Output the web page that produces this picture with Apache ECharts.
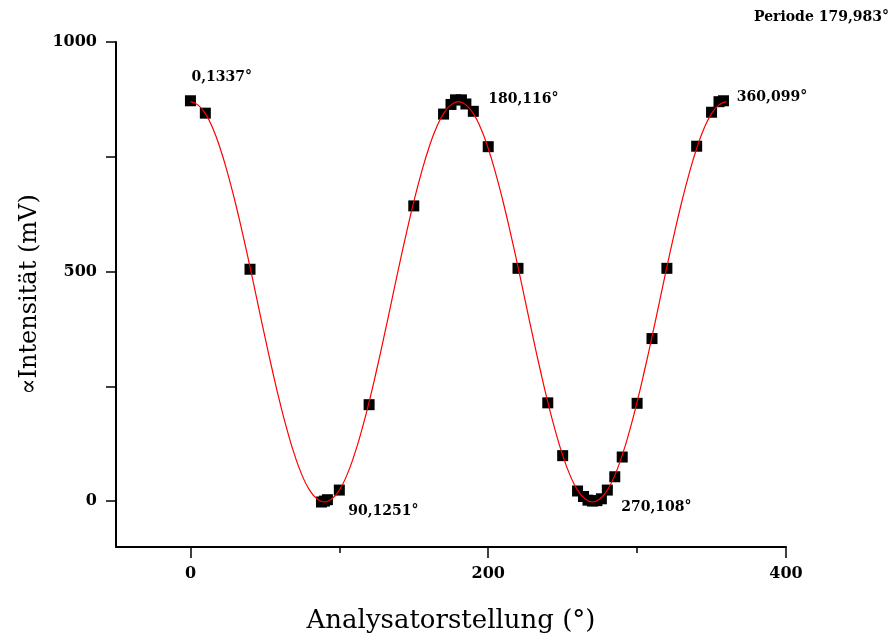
<!DOCTYPE html>
<html>
<head>
<meta charset="utf-8">
<script src="https://cdn.jsdelivr.net/npm/echarts@6/dist/echarts.min.js"></script>
<style>html,body{margin:0;padding:0;background:#fff}#c{width:895px;height:639px}</style>
</head>
<body>
<div id="c"></div>
<script>
// Measured data points (Analysatorstellung in °, Intensität in mV)
const angles = [0, 10, 40, 88, 90, 92, 100, 120, 150, 170, 175, 178, 182, 185, 190, 200, 220, 240, 250, 260, 264, 267, 270, 273, 276, 280, 285, 290, 300, 310, 320, 340, 350, 355, 358];
const intensity = [872, 845, 505, -2, 0, 3, 24, 210, 643, 843, 864, 874, 874, 865, 849, 772, 507, 214, 99, 22, 10, 2, 0, 1, 5, 24, 53, 96, 213, 354, 507, 773, 847, 870, 872];

// Fit curve, every 5°
const fitAngles = [0,5,10,15,20,25,30,35,40,45,50,55,60,65,70,75,80,85,90,95,100,105,110,115,120,125,130,135,140,145,150,155,160,165,170,175,180,185,190,195,200,205,210,215,220,225,230,235,240,245,250,255,260,265,270,275,280,285,290,295,300,305,310,315,320,325,330,335,340,345,350,355,360];
const fitValues = [870,863,844,812,768,714,652,583,510,434,358,285,216,154,100,56,24,5,-2,5,24,56,100,154,216,285,358,434,510,583,652,714,768,812,844,863,870,863,844,812,768,714,652,583,510,434,358,285,216,154,100,56,24,5,-2,5,24,56,100,154,216,285,358,434,510,583,652,714,768,812,844,863,870];

// Annotations (text anchored at its left-middle, in data coordinates)
const noteTexts = ['0,1337°', '90,1251°', '180,116°', '270,108°', '360,099°'];
const noteX = [0.7, 106, 200, 289.3, 367];
const noteY = [922, -22, 874, -13, 880];
const periodText = 'Periode 179,983°';

// Axis ticks
const xTickValues = [0, 200, 400];
const xMinorTickValues = [100, 300];
const yTickValues = [0, 250, 500, 750, 1000];
const yLabelValues = [0, 500, 1000];

const FONT = 'DejaVu Serif';

const chart = echarts.init(document.getElementById('c'), null, {renderer: 'canvas'});
const option = {
  animation: false,
  backgroundColor: '#fff',
  grid: {left: 116, right: 109, top: 42, bottom: 92, containLabel: false},
  xAxis: [{
    type: 'value', min: -50, max: 400,
    position: 'bottom',
    axisLine: {show: true, onZero: false, lineStyle: {color: '#000', width: 2}},
    axisTick: {show: true, inside: false, length: 11, customValues: xTickValues, lineStyle: {color: '#000', width: 1.5}},
    axisLabel: {show: true, customValues: xTickValues, margin: 19, color: '#000', fontFamily: FONT, fontWeight: 'bold', fontSize: 16, formatter: v => String(v)},
    splitLine: {show: false},
    name: 'Analysatorstellung (°)', nameLocation: 'middle', nameGap: 61,
    nameTextStyle: {color: '#000', fontFamily: FONT, fontSize: 26}
  }, {
    type: 'value', min: -50, max: 400,
    position: 'bottom',
    axisLine: {show: false, onZero: false},
    axisTick: {show: true, inside: false, length: 6, customValues: xMinorTickValues, lineStyle: {color: '#000', width: 1.5}},
    axisLabel: {show: false},
    splitLine: {show: false}
  }],
  yAxis: {
    type: 'value', min: -100, max: 1000,
    axisLine: {show: true, onZero: false, lineStyle: {color: '#000', width: 2}},
    axisTick: {show: true, inside: false, length: 10, customValues: yTickValues, lineStyle: {color: '#000', width: 1.5}},
    axisLabel: {show: true, customValues: yLabelValues, margin: 19, color: '#000', fontFamily: FONT, fontWeight: 'bold', fontSize: 16, formatter: v => String(v)},
    splitLine: {show: false},
    name: '∝Intensität (mV)', nameLocation: 'middle', nameGap: 62, nameRotate: 90,
    nameTextStyle: {color: '#000', fontFamily: FONT, fontSize: 24}
  },
  series: [{
    type: 'line',
    data: fitAngles.map((a, i) => [a, fitValues[i]]),
    smooth: true,
    showSymbol: false,
    symbol: 'none',
    lineStyle: {color: '#ff0000', width: 1.2},
    z: 3
  }, {
    type: 'scatter',
    data: angles.map((a, i) => [a, intensity[i]]),
    symbol: 'rect',
    symbolSize: 11,
    itemStyle: {color: '#000', opacity: 1},
    z: 2
  }, {
    type: 'scatter',
    data: noteTexts.map((t, i) => [noteX[i], noteY[i], t]),
    symbolSize: 0,
    silent: true,
    itemStyle: {opacity: 1},
    label: {
      show: true, position: [0, 0], align: 'left', verticalAlign: 'middle',
      formatter: p => p.data[2],
      color: '#000', fontFamily: FONT, fontWeight: 'bold', fontSize: 14
    },
    z: 4
  }],
  graphic: [{
    type: 'text', right: 6, top: 10,
    style: {text: periodText, fill: '#000', font: 'bold 14px "DejaVu Serif"'}
  }]
};
chart.setOption(option);
</script>
</body>
</html>
